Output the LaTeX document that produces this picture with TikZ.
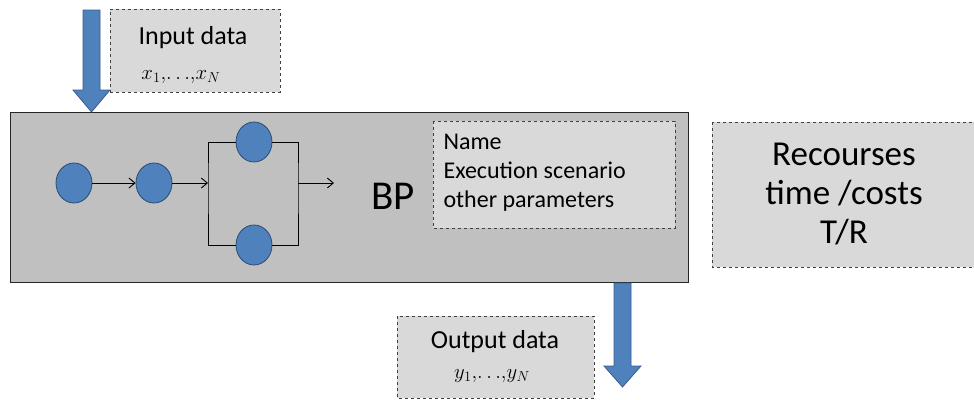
\documentclass[tikz,border=0pt]{standalone}
\usepackage{fontspec}
\setmainfont{Carlito}
\usetikzlibrary{arrows.meta,shapes.geometric}
\definecolor{bpgray}{HTML}{C0C0C0}
\definecolor{lightbox}{HTML}{D9D9D9}
\definecolor{dashline}{HTML}{404040}
\definecolor{bblue}{HTML}{4F81BD}
\definecolor{bblueline}{HTML}{385D8A}
\definecolor{circline}{HTML}{2A4A70}
\tikzset{
  infobox/.style={draw=dashline, dashed, fill=lightbox, line width=0.8pt},
  stepnode/.style={ellipse, draw=circline, fill=bblue, line width=0.8pt, minimum width=36pt, minimum height=40pt, inner sep=0pt},
  flow/.style={line width=0.9pt, -{Straight Barb[length=6pt,width=10pt]}},
  plainline/.style={line width=0.9pt},
  blockarrow/.style={fill=bblue, draw=bblueline, line width=0.8pt},
}
\newcommand{\compactvars}[1]{$#1_{1}{,}\!\ldots\!{,}#1_{N}$}
\begin{document}
\begin{tikzpicture}[x=1pt,y=-1pt]
\useasboundingbox (0,0) rectangle (974,399);
% main BP box
\draw[fill=bpgray, draw=black!85, line width=0.9pt] (10,112) rectangle (688,282);
% input arrow
\draw[blockarrow] (83,10) -- (100,10) -- (100,90) -- (110,90) -- (91.5,112) -- (73,90) -- (83,90) -- cycle;
% output arrow
\draw[blockarrow] (614,283) -- (631,283) -- (631,366) -- (641,366) -- (622.5,387) -- (604,366) -- (614,366) -- cycle;
% Input data box
\node[infobox, minimum width=170pt, minimum height=83pt, inner sep=0pt] (inbox) at (195,50.5) {};
\node[font=\fontsize{26}{28}\selectfont] (intext) at (193,38) {Input data};
\node[font=\fontsize{21}{23}\selectfont] (invars) at (181,77) {\compactvars{x}};
% Output data box
\draw[infobox] (397,316) rectangle (594,398);
\node[font=\fontsize{26}{28}\selectfont] (outtext) at (495,342) {Output data};
\node[font=\fontsize{21}{23}\selectfont] (outvars) at (492,376) {\compactvars{y}};
% Recourses box
\draw[infobox] (712,122) rectangle (976,267);
\node[font=\fontsize{35}{39}\selectfont, align=center] (res) at (844,194) {Recourses\\time /costs\\T/R};
% Name box
\draw[infobox] (433,121) rectangle (675,228);
\node[font=\fontsize{24}{29}\selectfont, align=left, anchor=north west] (params) at (440,131) {Name\\Execution scenario\\other parameters};
% BP label
\node[font=\fontsize{41}{44}\selectfont] (bp) at (393,196) {BP};
% process graph
\node[stepnode] (c1) at (74,183) {};
\node[stepnode] (c2) at (154,183) {};
\node[stepnode] (c3) at (254,142) {};
\node[stepnode] (c4) at (254,245) {};
\coordinate (splitL) at (208,183);
\coordinate (splitR) at (298,183);
\coordinate (outend) at (334,183);
\draw[flow] (c1) -- (c2);
\draw[flow] (c2) -- (splitL);
\draw[plainline] (c3.west) -| (splitL) |- (c4.west);
\draw[plainline] (c3.east) -| (splitR) |- (c4.east);
\draw[flow] (splitR) -- (outend);
\end{tikzpicture}
\end{document}
